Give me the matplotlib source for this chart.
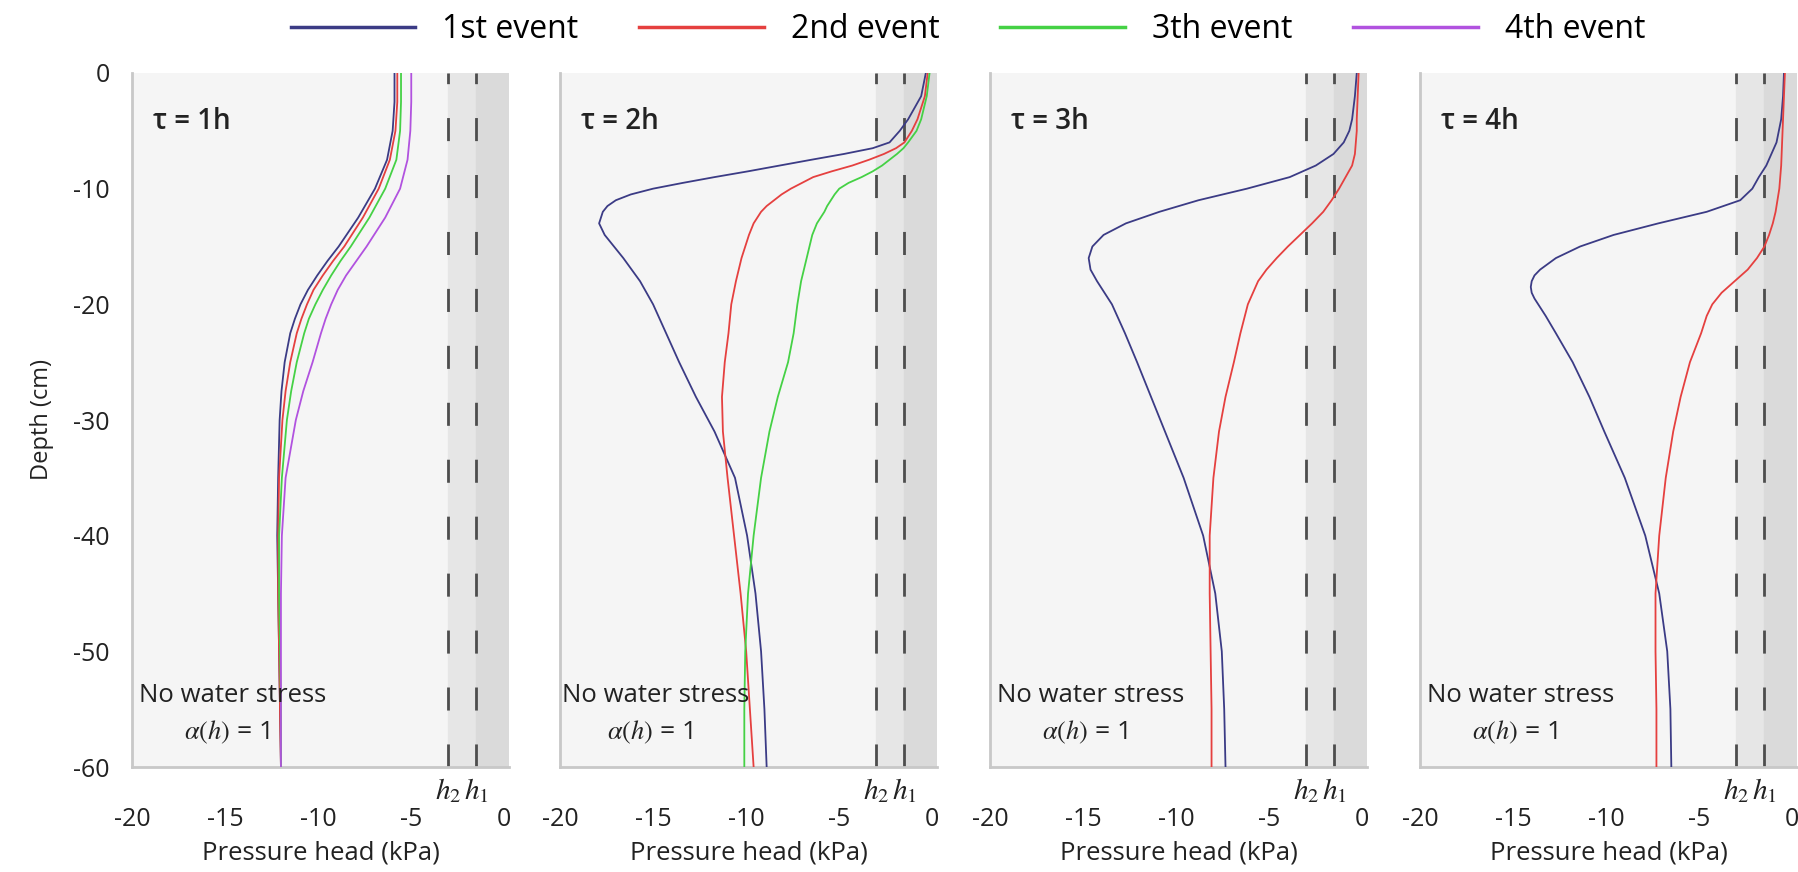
import matplotlib.pyplot as plt
from matplotlib import font_manager

available = {f.name for f in font_manager.fontManager.ttflist}
base_font = 'Open Sans' if 'Open Sans' in available else 'DejaVu Sans'
plt.rcParams['font.family'] = [base_font, 'DejaVu Sans']
plt.rcParams['mathtext.fontset'] = 'stix'
plt.rcParams['axes.unicode_minus'] = False

events = ['1st event', '2nd event', '3th event', '4th event']
colors = ['#3b3b85', '#e5403f', '#45d145', '#b152df']
taus = ['1h', '2h', '3h', '4h']
h2, h1 = -3.0, -1.5
xticks = [-20, -15, -10, -5, 0]
yticks = [0, -10, -20, -30, -40, -50, -60]

# tau = 1h
p1_depth = [0, -2.5, -5, -7.5, -10, -12.5, -15, -16.25, -17.5, -18.75, -20, -21.25, -22.5, -25, -27.5, -30, -35, -40, -45, -50, -55, -60]
p1_ev1 = [-5.9, -5.9, -6.0, -6.3, -6.95, -7.85, -8.9, -9.5, -10.05, -10.55, -10.95, -11.25, -11.5, -11.8, -11.97, -12.07, -12.15, -12.2, -12.15, -12.1, -12.05, -12.0]
p1_ev2 = [-5.75, -5.75, -5.85, -6.15, -6.75, -7.6, -8.6, -9.2, -9.75, -10.25, -10.6, -10.9, -11.15, -11.5, -11.75, -11.92, -12.1, -12.15, -12.15, -12.1, -12.05, -12.0]
p1_ev3 = [-5.55, -5.55, -5.6, -5.8, -6.4, -7.25, -8.25, -8.8, -9.3, -9.75, -10.15, -10.5, -10.75, -11.15, -11.45, -11.68, -11.95, -12.1, -12.1, -12.05, -12.0, -12.0]
p1_ev4 = [-5.0, -5.0, -5.05, -5.2, -5.6, -6.4, -7.4, -7.95, -8.5, -8.95, -9.3, -9.6, -9.85, -10.3, -10.8, -11.2, -11.75, -11.95, -12.0, -12.0, -12.0, -12.0]

# tau = 2h
p2_depth = [0, -2, -4, -5, -6, -6.5, -7, -7.5, -8, -8.5, -9, -9.5, -10, -10.5, -11, -11.5, -12, -13, -14, -15, -16, -18, -20, -22.5, -25, -28, -31, -35, -40, -45, -50, -55, -60]
p2_ev1 = [-0.35, -0.6, -1.3, -1.75, -2.3, -3.2, -4.75, -6.5, -8.2, -9.9, -11.7, -13.4, -15.0, -16.2, -17.0, -17.45, -17.7, -17.9, -17.6, -17.1, -16.6, -15.7, -15.0, -14.3, -13.6, -12.7, -11.7, -10.6, -9.95, -9.5, -9.2, -9.02, -8.9]
p2_ev2 = [-0.25, -0.4, -0.8, -1.1, -1.5, -1.95, -2.6, -3.4, -4.3, -5.4, -6.4, -7.0, -7.6, -8.1, -8.5, -8.9, -9.2, -9.6, -9.85, -10.05, -10.25, -10.55, -10.8, -10.95, -11.15, -11.3, -11.25, -11.0, -10.65, -10.3, -10.0, -9.8, -9.6]
p2_ev3 = [-0.15, -0.3, -0.6, -0.85, -1.3, -1.55, -1.9, -2.3, -2.7, -3.2, -3.8, -4.5, -5.0, -5.25, -5.45, -5.65, -5.8, -6.2, -6.45, -6.6, -6.75, -7.05, -7.25, -7.45, -7.75, -8.3, -8.75, -9.2, -9.6, -9.9, -10.05, -10.1, -10.1]

# tau = 3h
p3_depth = [0, -2, -4, -5, -6, -7, -8, -9, -10, -11, -12, -13, -14, -15, -16, -17, -18, -20, -22.5, -25, -28, -31, -35, -40, -45, -50, -55, -60]
p3_ev1 = [-0.3, -0.4, -0.55, -0.7, -1.0, -1.55, -2.5, -3.9, -6.2, -8.8, -10.9, -12.7, -13.9, -14.5, -14.7, -14.6, -14.25, -13.45, -12.75, -12.1, -11.35, -10.6, -9.6, -8.55, -7.9, -7.55, -7.42, -7.35]
p3_ev2 = [-0.2, -0.25, -0.3, -0.3, -0.35, -0.4, -0.55, -0.9, -1.25, -1.65, -2.1, -2.7, -3.35, -4.0, -4.6, -5.15, -5.6, -6.15, -6.55, -6.9, -7.35, -7.7, -8.0, -8.2, -8.2, -8.15, -8.1, -8.1]

# tau = 4h
p4_depth = [0, -2, -4, -6, -8, -9, -10, -11, -12, -13, -14, -15, -16, -17, -17.5, -18, -18.5, -19, -19.5, -20, -21, -22.5, -25, -28, -31, -35, -40, -45, -50, -55, -60]
p4_ev1 = [-0.45, -0.5, -0.6, -0.85, -1.4, -1.8, -2.15, -2.8, -4.6, -7.2, -9.6, -11.4, -12.7, -13.55, -13.85, -14.0, -14.05, -14.0, -13.85, -13.65, -13.25, -12.7, -11.8, -10.9, -10.1, -9.0, -7.9, -7.15, -6.72, -6.55, -6.5]
p4_ev2 = [-0.4, -0.45, -0.5, -0.55, -0.6, -0.65, -0.7, -0.8, -0.9, -1.05, -1.25, -1.5, -1.9, -2.4, -2.75, -3.1, -3.45, -3.8, -4.05, -4.3, -4.6, -4.9, -5.5, -6.0, -6.4, -6.8, -7.15, -7.35, -7.35, -7.3, -7.3]

panels = [
    (p1_depth, [p1_ev1, p1_ev2, p1_ev3, p1_ev4]),
    (p2_depth, [p2_ev1, p2_ev2, p2_ev3]),
    (p3_depth, [p3_ev1, p3_ev2]),
    (p4_depth, [p4_ev1, p4_ev2]),
]
lefts = [132, 560, 990, 1420]

W, H = 1799, 872
fig = plt.figure(figsize=(W / 100, H / 100), dpi=100)
handles = []
for i, (depth, series) in enumerate(panels):
    ax = fig.add_axes([lefts[i] / W, 1 - 767 / H, 377 / W, 694 / H])
    ax.set_facecolor('#f5f5f5')
    ax.set_xlim(-20, 0.25)
    ax.set_ylim(-60, 0)
    ax.axvspan(h2, h1, color='#e6e6e6', zorder=0)
    ax.axvspan(h1, 0.25, color='#dadada', zorder=0)
    for h in (h2, h1):
        ax.axvline(h, color='#4d4d4d', lw=2, linestyle=(0, (8.3, 12.2)), zorder=1)
    for j, vals in enumerate(series):
        ln, = ax.plot(vals, depth, color=colors[j], lw=1.3, label=events[j], zorder=3)
        if i == 0:
            handles.append(ln)
    for s in ('top', 'right'):
        ax.spines[s].set_visible(False)
    for s in ('left', 'bottom'):
        ax.spines[s].set_color('#c8c8c8')
        ax.spines[s].set_linewidth(2)
    ax.set_xticks(xticks)
    ax.tick_params(axis='x', length=0, pad=29, labelsize=18, labelcolor='#222222')
    ax.set_yticks(yticks)
    if i == 0:
        ax.tick_params(axis='y', length=0, pad=16, labelsize=18, labelcolor='#222222')
        ax.set_ylabel('Depth (cm)', fontsize=17, labelpad=14, color='#222222')
    else:
        ax.tick_params(axis='y', length=0, labelleft=False)
    ax.set_xlabel('Pressure head (kPa)', fontsize=18.5, labelpad=6, color='#222222')
    tr = ax.get_xaxis_transform()
    ax.text(h2, -0.035, '$h_2$', transform=tr, ha='center', va='center', fontsize=21, color='#222222')
    ax.text(h1, -0.035, '$h_1$', transform=tr, ha='center', va='center', fontsize=21, color='#222222')
    ax.text(-18.85, -4.2, 'τ = ' + taus[i], fontsize=20, fontweight='semibold', va='center', color='#222222')
    ax.text(-19.6 if i != 1 else -19.9, -53.8, 'No water stress', fontsize=18.5, va='center', color='#222222')
    ax.text(-17.2 if i != 1 else -17.5, -57.0, r'$\alpha(h)$ = 1', fontsize=19, va='center', color='#222222')

leg = fig.legend(handles=handles, loc='center', bbox_to_anchor=(968 / W, 1 - 30 / H), ncol=4, frameon=False,
                 prop={'size': 23}, handlelength=3.9, handletextpad=0.85, columnspacing=1.9)
for ln in leg.get_lines():
    ln.set_linewidth(2.5)

fig.savefig('out.png', dpi=100)
